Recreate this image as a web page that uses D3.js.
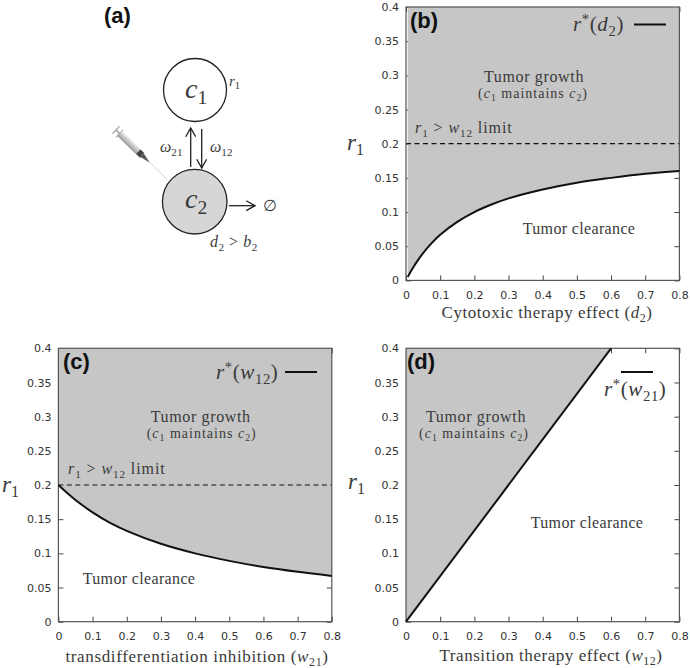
<!DOCTYPE html>
<html>
<head>
<meta charset="utf-8">
<script src="https://cdn.jsdelivr.net/npm/d3@7"></script>
<style>
  body { margin: 0; background: #fff; }
  text { fill: #3a3a3a; }
  .math { font-family: "Liberation Serif", serif; }
  .tick text { font-family: "DejaVu Sans", sans-serif; font-size: 11px; fill: #333; }
</style>
</head>
<body>
<svg id="chart" width="690" height="668"></svg>
<script>
// values
var xTicks = [0, 0.1, 0.2, 0.3, 0.4, 0.5, 0.6, 0.7, 0.8];
var yTicks = [0, 0.05, 0.1, 0.15, 0.2, 0.25, 0.3, 0.35, 0.4];
var limitValue = 0.2;

var d2Values = [0.005, 0.01, 0.02, 0.03, 0.05, 0.075, 0.1, 0.15, 0.2, 0.25, 0.3, 0.4, 0.5, 0.6, 0.7, 0.8];
var d2Curve = [0.0049, 0.0095, 0.018, 0.026, 0.04, 0.0545, 0.0667, 0.0857, 0.1, 0.111, 0.12, 0.133, 0.143, 0.15, 0.156, 0.16];

var w21Values = [0, 0.05, 0.1, 0.15, 0.2, 0.3, 0.4, 0.5, 0.6, 0.7, 0.8];
var w21Curve = [0.2, 0.178, 0.16, 0.145, 0.133, 0.114, 0.1, 0.089, 0.08, 0.073, 0.067];

var w12Values = [0, 0.6];
var w12Curve = [0, 0.4];

var svg = d3.select("#chart");

// text with italic and subscript parts: [string, "i"|"s"|"n"|"u"]
function mathText(parent, x, y, size, parts, anchor, spacing) {
  var t = parent.append("text").attr("class", "math")
    .attr("x", x).attr("y", y)
    .attr("font-size", size)
    .attr("text-anchor", anchor || "start")
    .attr("letter-spacing", spacing || 0);
  var shift = 0;
  parts.forEach(function(p) {
    var sub = p[1] == "s", sup = p[1] == "u";
    var dy = sub ? size * 0.22 : sup ? -size * 0.35 : 0;
    var ts = t.append("tspan").text(p[0])
      .attr("dy", dy - shift)
      .attr("font-style", p[1] == "i" ? "italic" : "normal");
    if (sub || sup) ts.attr("font-size", size * 0.7);
    shift = dy;
  });
  return t;
}

function panelLetter(label, x, y) {
  svg.append("text").text(label)
    .attr("x", x).attr("y", y)
    .attr("font-family", "Liberation Sans, sans-serif")
    .attr("font-weight", "bold")
    .attr("font-size", 22)
    .style("fill", "#111");
}

function drawPanel(p) {
  var g = svg.append("g");
  var x = d3.scaleLinear().domain([0, 0.8]).range([p.left, p.left + 273.4]);
  var y = d3.scaleLinear().domain([0, 0.4]).range([p.top + 273.4, p.top]);

  // ticks on all four sides, the shaded zone goes over them
  function tickStyle(a) {
    a.select(".domain").remove();
    a.selectAll(".tick line").attr("stroke", "#444").attr("stroke-width", 1);
  }
  g.append("g").attr("transform", "translate(0," + y(0) + ")")
    .call(d3.axisBottom(x).tickValues(xTicks).tickFormat(String).tickSize(-5).tickPadding(11))
    .call(tickStyle);
  g.append("g").attr("transform", "translate(" + x(0) + ",0)")
    .call(d3.axisLeft(y).tickValues(yTicks).tickFormat(String).tickSize(-5).tickPadding(7))
    .call(tickStyle);
  g.append("g").attr("transform", "translate(0," + y(0.4) + ")")
    .call(d3.axisTop(x).tickValues(xTicks).tickFormat("").tickSize(-5))
    .call(tickStyle);
  g.append("g").attr("transform", "translate(" + x(0.8) + ",0)")
    .call(d3.axisRight(y).tickValues(yTicks).tickFormat("").tickSize(-5))
    .call(tickStyle);

  var pts = p.xs.map(function(v, i) { return [v, p.ys[i]]; });

  g.append("path").datum(pts)
    .attr("fill", "#c6c6c6")
    .attr("d", d3.area()
      .x(function(d) { return x(d[0]); })
      .y0(y(0.4))
      .y1(function(d) { return y(d[1]); })
      .curve(d3.curveCatmullRom));

  if (p.limit) {
    g.append("line")
      .attr("x1", x(0)).attr("x2", x(0.8))
      .attr("y1", y(limitValue)).attr("y2", y(limitValue))
      .attr("stroke", "#111").attr("stroke-width", 1.2)
      .attr("stroke-dasharray", "5,3.5");
  }

  g.append("rect")
    .attr("x", x(0)).attr("y", y(0.4))
    .attr("width", x(0.8) - x(0)).attr("height", y(0) - y(0.4))
    .attr("fill", "none").attr("stroke", "#555").attr("stroke-width", 1.2);

  g.append("path").datum(pts)
    .attr("fill", "none").attr("stroke", "#111").attr("stroke-width", 2)
    .attr("d", d3.line()
      .x(function(d) { return x(d[0]); })
      .y(function(d) { return y(d[1]); })
      .curve(d3.curveCatmullRom));

  // legend
  g.append("line")
    .attr("x1", p.legendLine[0]).attr("x2", p.legendLine[0] + 32)
    .attr("y1", p.legendLine[1]).attr("y2", p.legendLine[1])
    .attr("stroke", "#111").attr("stroke-width", 2);
  mathText(g, p.legendText[0], p.legendText[1], 21, p.legendParts, "start", 0.6);

  // zone labels
  mathText(g, p.growth[0], p.growth[1], 16, [["Tumor growth", "n"]], "middle", 0.65);
  mathText(g, p.growth[2], p.growth[3], 14,
    [["(", "n"], ["c", "i"], ["1", "s"], [" maintains ", "n"], ["c", "i"], ["2", "s"], [")", "n"]], "middle", 1);
  mathText(g, p.clearance[0], p.clearance[1], 16, [["Tumor clearance", "n"]], "middle", 0.35);
  if (p.limit) {
    mathText(g, p.limit[0], p.limit[1], 16,
      [["r", "i"], ["1", "s"], [" > ", "n"], ["w", "i"], ["12", "s"], [" limit", "n"]], "start", 0.9);
  }

  mathText(g, p.rLabel[0], p.rLabel[1], 23, [["r", "i"], ["1", "s"]]);
  mathText(g, p.xLabel[0], p.xLabel[1], 17, p.xParts, "middle", p.xLabel[2]);
}

drawPanel({
  left: 406, top: 7, xs: d2Values, ys: d2Curve,
  limit: [415, 133], growth: [534, 81.5, 533, 97.5], clearance: [579, 234],
  legendLine: [634, 24.5], legendText: [573, 31],
  legendParts: [["r", "i"], ["*", "u"], ["(", "n"], ["d", "i"], ["2", "s"], [")", "n"]],
  rLabel: [347, 150], xLabel: [547, 318, 0.55],
  xParts: [["Cytotoxic therapy effect  (", "n"], ["d", "i"], ["2", "s"], [")", "n"]]
});
drawPanel({
  left: 58.4, top: 348.3, xs: w21Values, ys: w21Curve,
  limit: [68, 474], growth: [200.7, 421.5, 201.7, 437.5], clearance: [139, 584],
  legendLine: [285, 372], legendText: [216, 379],
  legendParts: [["r", "i"], ["*", "u"], ["(", "n"], ["w", "i"], ["12", "s"], [")", "n"]],
  rLabel: [2, 492], xLabel: [197, 662, 0.65],
  xParts: [["transdifferentiation inhibition  (", "n"], ["w", "i"], ["21", "s"], [")", "n"]]
});
drawPanel({
  left: 406, top: 348.3, xs: w12Values, ys: w12Curve,
  growth: [476, 421.5, 474, 437.5], clearance: [587, 528],
  legendLine: [621, 372], legendText: [604, 396],
  legendParts: [["r", "i"], ["*", "u"], ["(", "n"], ["w", "i"], ["21", "s"], [")", "n"]],
  rLabel: [348, 489], xLabel: [551, 661, 0.55],
  xParts: [["Transition therapy effect  (", "n"], ["w", "i"], ["12", "s"], [")", "n"]]
});

panelLetter("(a)", 104, 23);
panelLetter("(b)", 410, 28);
panelLetter("(c)", 63, 369);
panelLetter("(d)", 407, 369);

// (a) the cell diagram
var diagram = svg.append("g");
var defs = svg.append("defs");
var marker = defs.append("marker").attr("id", "head")
  .attr("viewBox", "0 0 10 10").attr("refX", 9).attr("refY", 5)
  .attr("markerWidth", 11).attr("markerHeight", 11).attr("markerUnits", "userSpaceOnUse")
  .attr("orient", "auto");
marker.append("path").attr("d", "M1,0.5 L9,5 L1,9.5").attr("fill", "none").attr("stroke", "#222").attr("stroke-width", 1.2);

diagram.append("circle").attr("cx", 195).attr("cy", 90).attr("r", 31.5)
  .attr("fill", "#fff").attr("stroke", "#222").attr("stroke-width", 1.3);
diagram.append("circle").attr("cx", 194.7).attr("cy", 201.7).attr("r", 32.3)
  .attr("fill", "#d6d6d6").attr("stroke", "#222").attr("stroke-width", 1.3);

function arrow(x1, y1, x2, y2) {
  diagram.append("line").attr("x1", x1).attr("y1", y1).attr("x2", x2).attr("y2", y2)
    .attr("stroke", "#222").attr("stroke-width", 1.3).attr("marker-end", "url(#head)");
}
arrow(190.7, 167, 190.7, 128);
arrow(201.7, 129, 201.7, 168);
arrow(229, 205.7, 255, 205.7);

mathText(diagram, 185, 98, 28, [["c", "i"], ["1", "s"]]);
mathText(diagram, 185, 208, 28, [["c", "i"], ["2", "s"]]);
mathText(diagram, 229, 86, 15, [["r", "i"], ["1", "s"]]);
mathText(diagram, 160, 152, 16, [["ω", "i"], ["21", "s"]]);
mathText(diagram, 210, 152, 16, [["ω", "i"], ["12", "s"]]);
mathText(diagram, 210, 247, 16, [["d", "i"], ["2", "s"], [" > ", "n"], ["b", "i"], ["2", "s"]], "start", 0.5);
mathText(diagram, 263, 211, 16, [["∅", "n"]]);

// syringe, pointing down to c2
var grad = defs.append("linearGradient").attr("id", "barrel")
  .attr("x1", 0).attr("y1", 0).attr("x2", 0).attr("y2", 1);
grad.append("stop").attr("offset", 0).attr("stop-color", "#eee");
grad.append("stop").attr("offset", 1).attr("stop-color", "#999");
var syringe = diagram.append("g").attr("transform", "translate(116,130) rotate(44)");
syringe.append("line").attr("x1", 0).attr("y1", -5).attr("x2", 0).attr("y2", 5).attr("stroke", "#999").attr("stroke-width", 1.2);
syringe.append("line").attr("x1", 0).attr("y1", 0).attr("x2", 6).attr("y2", 0).attr("stroke", "#999").attr("stroke-width", 1.5);
syringe.append("line").attr("x1", 5).attr("y1", -5).attr("x2", 5).attr("y2", 5).attr("stroke", "#999").attr("stroke-width", 1);
syringe.append("rect").attr("x", 5).attr("y", -3.5).attr("width", 32).attr("height", 7).attr("fill", "url(#barrel)");
syringe.append("rect").attr("x", 31).attr("y", -3).attr("width", 5).attr("height", 6).attr("fill", "#444");
syringe.append("path").attr("d", "M36,-2.5 L47,0 L36,2.5 Z").attr("fill", "#555");
syringe.append("line").attr("x1", 47).attr("y1", 0).attr("x2", 71).attr("y2", 0).attr("stroke", "#ccc").attr("stroke-width", 0.8);
</script>
</body>
</html>
